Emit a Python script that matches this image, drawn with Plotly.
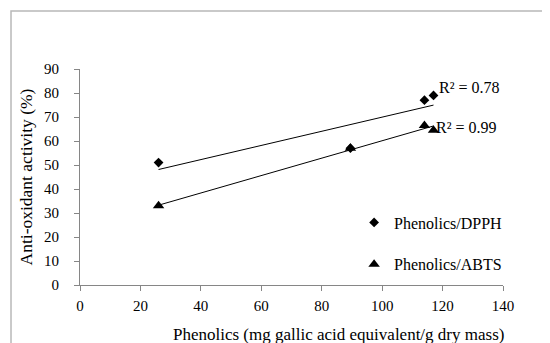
import numpy as np
import plotly.graph_objects as go

# Data
dpph_x = [26.0, 89.5, 114.0, 117.0]
dpph_y = [51.0, 57.0, 77.0, 79.0]
abts_x = [26.0, 89.5, 114.0, 117.0]
abts_y = [33.0, 57.0, 66.5, 64.5]
x_ticks = [0, 20, 40, 60, 80, 100, 120, 140]
y_ticks = [0, 10, 20, 30, 40, 50, 60, 70, 80, 90]
r2_labels = ["R² = 0.78", "R² = 0.99"]
x_title = "Phenolics (mg gallic acid equivalent/g dry mass)"
y_title = "Anti-oxidant activity (%)"

FONT = "Liberation Serif, DejaVu Serif, serif"

def fit(xs, ys):
    m, b = np.polyfit(xs, ys, 1)
    xl = [min(xs), max(xs)]
    return xl, [m * v + b for v in xl]

fig = go.Figure()
fx, fy = fit(dpph_x, dpph_y)
ax_, ay_ = fit(abts_x, abts_y)
fig.add_trace(go.Scatter(x=fx, y=fy, mode="lines", line=dict(color="black", width=1), showlegend=False, hoverinfo="skip"))
fig.add_trace(go.Scatter(x=ax_, y=ay_, mode="lines", line=dict(color="black", width=1), showlegend=False, hoverinfo="skip"))
fig.add_trace(go.Scatter(x=dpph_x, y=dpph_y, mode="markers", name="Phenolics/DPPH",
                         marker=dict(symbol="diamond", size=7.5, color="black"), legendgroup="a"))
fig.add_trace(go.Scatter(x=abts_x, y=abts_y, mode="markers", name="Phenolics/ABTS",
                         marker=dict(symbol="triangle-up", size=10, color="black"), legendgroup="b"))

fig.add_annotation(x=118.3, y=82.5, text=r2_labels[0], showarrow=False, xanchor="left", yanchor="middle",
                   font=dict(family=FONT, size=16, color="black"))
fig.add_annotation(x=117.3, y=65.6, text=r2_labels[1], showarrow=False, xanchor="left", yanchor="middle",
                   font=dict(family=FONT, size=16, color="black"))

# x-axis title (offset to the right as in the reference)
fig.add_annotation(xref="paper", yref="paper", x=0.61, y=-0.228, text=x_title, showarrow=False,
                   xanchor="center", yanchor="middle", font=dict(family=FONT, size=17, color="black"))

fig.add_shape(type="rect", xref="paper", yref="paper", x0=-0.1631, x1=1.1206, y0=-0.287, y1=1.2685,
              line=dict(color="#b8b8b8", width=1.5))

axis_common = dict(showgrid=False, zeroline=False, showline=True, linecolor="#868686", linewidth=1,
                   ticks="outside", ticklen=5, tickcolor="#868686",
                   tickfont=dict(family=FONT, size=15, color="black"))

fig.update_xaxes(range=[0, 140], tickvals=x_ticks, ticktext=[str(v) for v in x_ticks], ticklabelstandoff=2,
                 **axis_common)
fig.update_yaxes(range=[0, 90], tickvals=y_ticks, ticktext=[str(v) for v in y_ticks], ticklabelstandoff=12,
                 title=dict(text=y_title, font=dict(family=FONT, size=17.5, color="black"), standoff=6),
                 **axis_common)

fig.update_layout(
    width=550, height=343,
    margin=dict(l=72, r=55, t=61, b=66),
    paper_bgcolor="white", plot_bgcolor="white",
    font=dict(family=FONT, size=16, color="black"),
    legend=dict(x=0.648, y=0.368, xanchor="left", yanchor="top", tracegroupgap=18,
                bgcolor="rgba(0,0,0,0)", font=dict(family=FONT, size=16, color="black")),
)

fig.write_html("out.html")
